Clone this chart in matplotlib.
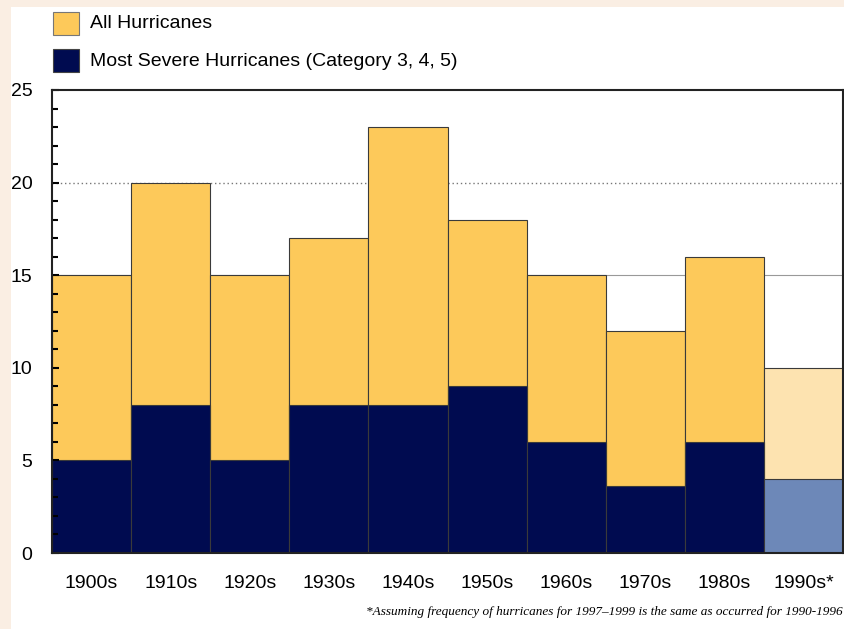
import numpy as np
import matplotlib.pyplot as plt
from matplotlib.patches import Rectangle
from matplotlib.ticker import MultipleLocator

decades = ['1900s', '1910s', '1920s', '1930s', '1940s', '1950s', '1960s', '1970s', '1980s', '1990s*']
all_hurricanes = [15, 20, 15, 17, 23, 18, 15, 12, 16, 10]
severe = [5, 8, 5, 8, 8, 9, 6, 3.6, 6, 4]

font = 'Liberation Sans'

yellow = '#FDC95A'
navy = '#000B50'
yellow_est = '#FDE3B0'
blue_est = '#6D88B8'

fig = plt.figure(figsize=(8.44, 6.29), dpi=100, facecolor='#FAEEE3')
fig.add_artist(Rectangle((11/844, 0), 1, (629-7)/629, transform=fig.transFigure,
                         facecolor='white', edgecolor='none', zorder=-10))

ax = fig.add_axes([52/844, 76/629, 791/844, 463/629])
x = np.arange(len(decades))
top_colors = [yellow]*9 + [yellow_est]
bot_colors = [navy]*9 + [blue_est]
ax.bar(x, all_hurricanes, width=1.0, color=top_colors, edgecolor='#3a3a3a', linewidth=0.8, zorder=2)
ax.bar(x, severe, width=1.0, color=bot_colors, edgecolor='#3a3a3a', linewidth=0.8, zorder=3)

ax.axhline(20, color='#777777', linestyle=(0, (1, 2)), linewidth=1, zorder=1)
ax.axhline(15, color='#999999', linewidth=0.8, zorder=1)
ax.axhline(10, color='#bbbbbb', linewidth=0.6, zorder=1)

ax.set_xlim(-0.5, 9.5)
ax.set_ylim(0, 25)
ax.set_xticks(x)
ax.set_xticklabels(decades, fontfamily=font, fontsize=14)
ax.set_yticks([0, 5, 10, 15, 20, 25])
ax.set_yticklabels(['0', '5', '10', '15', '20', '25'], fontfamily=font, fontsize=14)
ax.yaxis.set_minor_locator(MultipleLocator(1))
ax.yaxis.set_zorder(5)
ax.tick_params(axis='x', length=0, pad=16)
ax.tick_params(axis='y', which='major', direction='in', length=5, width=1.5, pad=14)
ax.tick_params(axis='y', which='minor', direction='in', length=4, width=1.5)
for s in ax.spines.values():
    s.set_linewidth(1.5)
    s.set_color('#222222')
    s.set_zorder(6)
ax.set_facecolor('white')

# legend boxes
fig.add_artist(Rectangle((53/844, 1-35/629), 26/844, 23/629, transform=fig.transFigure,
                         facecolor=yellow, edgecolor='#777777', linewidth=0.8))
fig.add_artist(Rectangle((53/844, 1-72/629), 26/844, 23/629, transform=fig.transFigure,
                         facecolor=navy, edgecolor='#444444', linewidth=0.8))
fig.text(90/844, 1-24/629, 'All Hurricanes', fontfamily=font, fontsize=14, va='center')
fig.text(90/844, 1-61/629, 'Most Severe Hurricanes (Category 3, 4, 5)', fontfamily=font,
         fontsize=14, va='center')

fig.text(843/844, 1-612/629,
         '*Assuming frequency of hurricanes for 1997\u20131999 is the same as occurred for 1990-1996',
         fontfamily='Liberation Serif', style='italic', fontsize=9.5, ha='right', va='center')

fig.savefig('out.png', dpi=100, facecolor=fig.get_facecolor())
